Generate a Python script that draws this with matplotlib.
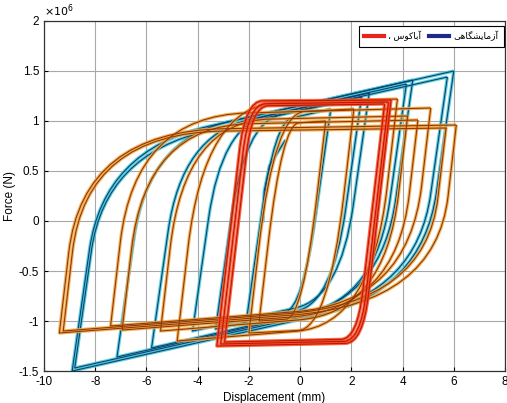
import matplotlib
matplotlib.use('Agg')
import matplotlib.pyplot as plt
from matplotlib.path import Path
from matplotlib.patches import PathPatch
from matplotlib.lines import Line2D

plt.rcParams['font.family'] = ['Liberation Sans', 'DejaVu Sans']

# ------------------------------------------------------------
# loop data: positive peak, lower knee, negative peak, upper knee
# displacement in mm, force in 1e6 N
# ------------------------------------------------------------

# experimental (cyan)
exp_dp = [6.00, 5.75, 4.40, 4.15, 2.70, 2.40, 1.20]
exp_fp = [1.50, 1.44, 1.41, 1.37, 1.28, 1.24, 1.12]
exp_klo_x = [4.77, 4.56, 3.19, 2.97, 1.56, 1.26, 0.09]
exp_klo_f = [-0.71, -0.70, -0.76, -0.76, -0.77, -0.82, -0.87]
exp_dn = [-8.90, -8.80, -7.15, -5.80, -4.20, -3.30, -2.10]
exp_fn = [-1.50, -1.47, -1.36, -1.27, -1.10, -1.08, -1.00]
exp_kup_x = [-7.67, -7.61, -5.94, -4.62, -3.06, -2.16, -0.99]
exp_kup_f = [0.71, 0.67, 0.81, 0.86, 0.95, 0.98, 0.99]

# experimental start branch
start_x = [-1.45, -1.40, -1.20, -0.60]
start_f = [0.00, 0.30, 0.55, 0.80]

# abaqus (orange)
abq_dp = [6.10, 5.70, 5.10, 4.60, 4.20, 3.80, 2.10, 1.00]
abq_fp = [0.96, 0.93, 1.13, 1.01, 1.05, 1.22, 1.12, 1.00]
abq_klo_x = [5.29, 4.90, 4.21, 3.74, 3.30, 2.77, 1.10, 0.10]
abq_klo_f = [-0.83, -0.82, -0.82, -0.88, -0.92, -1.04, -1.08, -0.97]
abq_dn = [-9.40, -9.25, -7.40, -6.95, -5.45, -4.80, -2.00, -1.60]
abq_fn = [-1.12, -1.10, -1.05, -1.09, -1.10, -1.20, -1.12, -1.00]
abq_kup_x = [-8.48, -8.35, -6.45, -6.02, -4.50, -3.73, -1.00, -0.70]
abq_kup_f = [0.90, 0.88, 1.05, 0.95, 1.00, 1.16, 1.08, 0.97]

# abaqus repeated cycles (red)
red_dp = [3.55, 3.45, 3.30]
red_fp = [1.21, 1.19, 1.17]
red_klo_x = [2.45, 2.36, 2.23]
red_klo_f = [-1.22, -1.20, -1.18]
red_dn = [-3.25, -3.10, -2.95]
red_fn = [-1.25, -1.23, -1.21]
red_kup_x = [-2.14, -2.01, -1.88]
red_kup_f = [1.20, 1.17, 1.15]

x_ticks = [-10, -8, -6, -4, -2, 0, 2, 4, 6, 8]
y_ticks = [-1.5, -1, -0.5, 0, 0.5, 1, 1.5, 2]
y_tick_labels = ['-1.5', '-1', '-0.5', '0', '0.5', '1', '1.5', '2']

label_abaqus = '\u060C ' + '\uFEB1\uFEEE\uFB90\uFE8E\uFE91\uFE81'
label_exp = '\uFBFD\uFEEB\uFE8E\uFB95\uFEB8\uFBFE\uFE8E\uFEE3\uFEAF\uFE81'


def corner(k, p, frac):
    return (k[0] + frac * (p[0] - k[0]), k[1] + frac * (p[1] - k[1]))


def loop_path(dp, fp, klo, dn, fn, kup, a, b):
    """闭合滞回环: 正峰 -> 下拐点 -> 负峰 -> 上拐点 -> 正峰, 拐点处圆角"""
    pp, pn = (dp, fp), (dn, fn)
    verts = [pp, corner(klo, pp, a), klo, corner(klo, pn, b), pn,
             corner(kup, pn, a), kup, corner(kup, pp, b), pp]
    codes = [Path.MOVETO, Path.LINETO, Path.CURVE3, Path.CURVE3, Path.LINETO,
             Path.LINETO, Path.CURVE3, Path.CURVE3, Path.LINETO]
    return Path(verts, codes)


def draw_group(ax, dp, fp, kx1, kf1, dn, fn, kx2, kf2, glow, core, a, b, z):
    for i in range(len(dp)):
        path = loop_path(dp[i], fp[i], (kx1[i], kf1[i]), dn[i], fn[i],
                         (kx2[i], kf2[i]), a, b)
        ax.add_patch(PathPatch(path, fill=False, ec=glow, lw=2.4, alpha=0.85,
                               zorder=z, joinstyle='round'))
        ax.add_patch(PathPatch(path, fill=False, ec=core, lw=0.8,
                               zorder=z + 0.1, joinstyle='round'))


fig = plt.figure(figsize=(5.07, 4.03), dpi=100)
ax = fig.add_axes([0.0868, 0.0794, 0.9092, 0.8685])

draw_group(ax, exp_dp, exp_fp, exp_klo_x, exp_klo_f, exp_dn, exp_fn,
           exp_kup_x, exp_kup_f, '#3cc9dc', '#143f6c', 0.45, 0.3, 2)
ax.plot(start_x, start_f, color='#3cc9dc', lw=2.4, alpha=0.85, zorder=2)
ax.plot(start_x, start_f, color='#143f6c', lw=0.8, zorder=2.1)
draw_group(ax, abq_dp, abq_fp, abq_klo_x, abq_klo_f, abq_dn, abq_fn,
           abq_kup_x, abq_kup_f, '#f4a63e', '#8e3a0c', 0.6, 0.38, 3)
draw_group(ax, red_dp, red_fp, red_klo_x, red_klo_f, red_dn, red_fn,
           red_kup_x, red_kup_f, '#ff4a22', '#b81a05', 0.2, 0.12, 4)

ax.set_xlim(-10, 8)
ax.set_ylim(-1.5, 2)
ax.set_xticks(x_ticks)
ax.set_yticks(y_ticks)
ax.set_xticklabels([str(v) for v in x_ticks])
ax.set_yticklabels(y_tick_labels)
ax.grid(True, color='#a8a8a8', lw=0.8)
ax.set_axisbelow(True)
ax.tick_params(direction='in', length=3, labelsize=8.5, width=0.8,
               top=False, right=False)
for s in ax.spines.values():
    s.set_linewidth(0.9)
    s.set_color('#333333')

# x10^6 偏移标注
ax.text(0.0, 1.005, r'$\times10^6$', transform=ax.transAxes, fontsize=8,
        ha='left', va='bottom')

ax.set_xlabel('Displacement (mm)', fontsize=8.5, labelpad=3)
ax.set_ylabel('Force (N)', fontsize=8.5, labelpad=2)

handles = [Line2D([], [], color='#e8231c', lw=3),
           Line2D([], [], color='#1c2a8c', lw=3)]
leg = ax.legend(handles, [label_abaqus, label_exp], ncol=2, loc='upper right',
                bbox_to_anchor=(0.997, 0.985), borderaxespad=0, fontsize=6.5,
                fancybox=False, framealpha=1, edgecolor='black',
                handlelength=2.2, columnspacing=0.9, handletextpad=0.5,
                borderpad=0.55)
leg.get_frame().set_linewidth(0.8)
leg.set_zorder(10)

fig.savefig('out.png', dpi=100)
